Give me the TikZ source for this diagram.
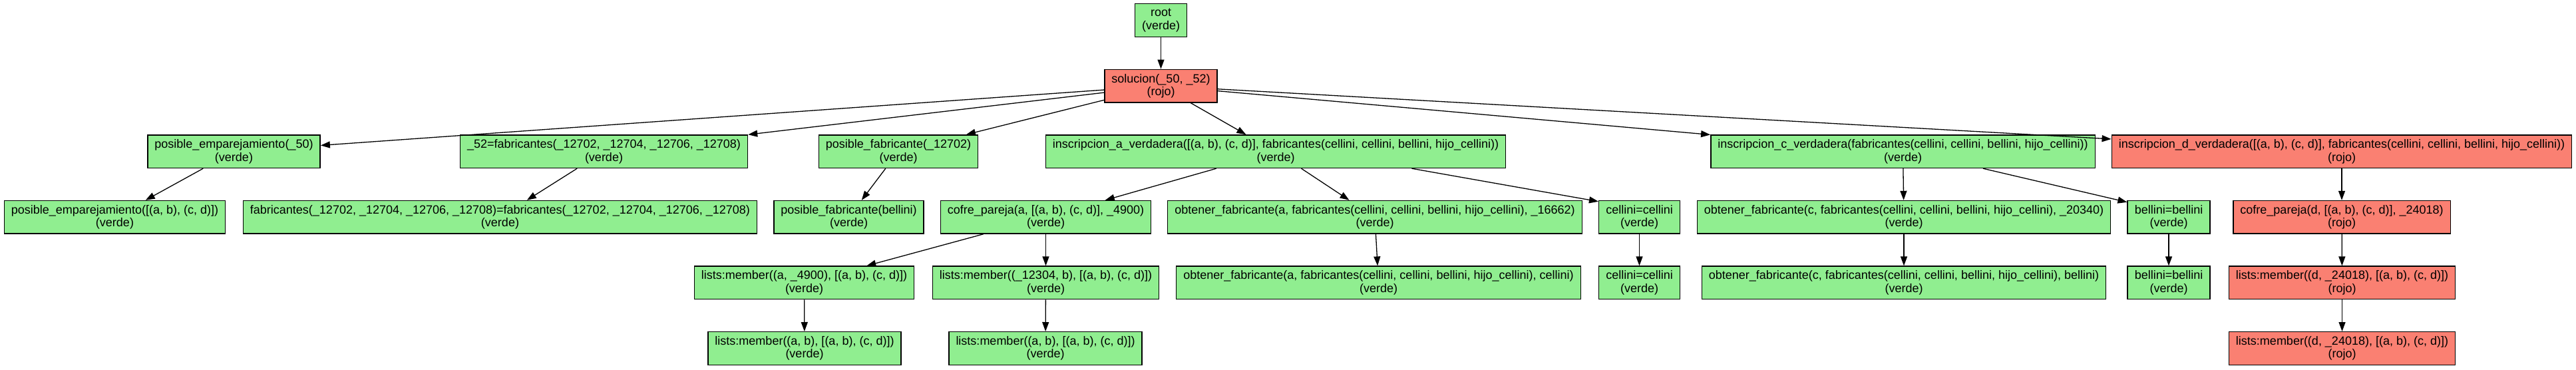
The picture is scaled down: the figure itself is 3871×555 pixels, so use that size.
\documentclass[tikz,border=0pt]{standalone}
\usepackage{fontspec}
\setmainfont{Liberation Sans}
\usepackage{xcolor}
\usepackage{tikz}
\usetikzlibrary{arrows.meta}
\definecolor{TreeGreen}{HTML}{90EE90}
\definecolor{TreeRed}{HTML}{FA8072}

\begin{document}
\begin{tikzpicture}[
  x=1pt, y=-1pt,
  box/.style={draw=black, line width=1.4pt, fill=TreeGreen, align=center, inner xsep=10.6pt, inner ysep=0pt, minimum height=49.6pt, font=\fontsize{18}{19.5}\selectfont},
  failbox/.style={box, fill=TreeRed},
  arrow/.style={-{Triangle[length=14pt, width=10pt]}, line width=1.3pt, draw=black}
]
\useasboundingbox (0,0) rectangle (3871,555);
\node[box] (root) at (1744.5,30.5) {root\\(verde)};
\node[failbox] (sol) at (1744.5,129.1) {solucion(\_50, \_52)\\(rojo)};
\node[box] (pe50) at (351.5,227.7) {posible\_emparejamiento(\_50)\\(verde)};
\node[box] (f52) at (907.5,227.7) {\_52=fabricantes(\_12702, \_12704, \_12706, \_12708)\\(verde)};
\node[box] (pf12702) at (1350,227.7) {posible\_fabricante(\_12702)\\(verde)};
\node[box] (insa) at (1917,227.7) {inscripcion\_a\_verdadera([(a, b), (c, d)], fabricantes(cellini, cellini, bellini, hijo\_cellini))\\(verde)};
\node[box] (insc) at (2859.5,227.7) {inscripcion\_c\_verdadera(fabricantes(cellini, cellini, bellini, hijo\_cellini))\\(verde)};
\node[failbox] (insd) at (3519,227.7) {inscripcion\_d\_verdadera([(a, b), (c, d)], fabricantes(cellini, cellini, bellini, hijo\_cellini))\\(rojo)};
\node[box] (pe) at (172.5,326.3) {posible\_emparejamiento([(a, b), (c, d)])\\(verde)};
\node[box] (ff) at (751.5,326.3) {fabricantes(\_12702, \_12704, \_12706, \_12708)=fabricantes(\_12702, \_12704, \_12706, \_12708)\\(verde)};
\node[box] (pfb) at (1275.5,326.3) {posible\_fabricante(bellini)\\(verde)};
\node[box] (cofa) at (1571.5,326.3) {cofre\_pareja(a, [(a, b), (c, d)], \_4900)\\(verde)};
\node[box] (obta) at (2066,326.3) {obtener\_fabricante(a, fabricantes(cellini, cellini, bellini, hijo\_cellini), \_16662)\\(verde)};
\node[box] (cel1) at (2463.5,326.3) {cellini=cellini\\(verde)};
\node[box] (obtc) at (2861,326.3) {obtener\_fabricante(c, fabricantes(cellini, cellini, bellini, hijo\_cellini), \_20340)\\(verde)};
\node[box] (bel1) at (3259,326.3) {bellini=bellini\\(verde)};
\node[failbox] (cofd) at (3519,326.3) {cofre\_pareja(d, [(a, b), (c, d)], \_24018)\\(rojo)};
\node[box] (lma) at (1208.5,424.9) {lists:member((a, \_4900), [(a, b), (c, d)])\\(verde)};
\node[box] (lm12304) at (1571.5,424.9) {lists:member((\_12304, b), [(a, b), (c, d)])\\(verde)};
\node[box] (obta2) at (2071.5,424.9) {obtener\_fabricante(a, fabricantes(cellini, cellini, bellini, hijo\_cellini), cellini)\\(verde)};
\node[box] (cel2) at (2463.5,424.9) {cellini=cellini\\(verde)};
\node[box] (obtc2) at (2861,424.9) {obtener\_fabricante(c, fabricantes(cellini, cellini, bellini, hijo\_cellini), bellini)\\(verde)};
\node[box] (bel2) at (3259,424.9) {bellini=bellini\\(verde)};
\node[failbox] (lmd1) at (3519.5,424.9) {lists:member((d, \_24018), [(a, b), (c, d)])\\(rojo)};
\node[box] (lmab1) at (1209,523.5) {lists:member((a, b), [(a, b), (c, d)])\\(verde)};
\node[box] (lmab2) at (1571,523.5) {lists:member((a, b), [(a, b), (c, d)])\\(verde)};
\node[failbox] (lmd2) at (3519.5,523.5) {lists:member((d, \_24018), [(a, b), (c, d)])\\(rojo)};
\draw[arrow] (root) -- (sol);
\draw[arrow] (sol) -- (pe50);
\draw[arrow] (sol) -- (f52);
\draw[arrow] (sol) -- (pf12702);
\draw[arrow] (sol) -- (insa);
\draw[arrow] (sol) -- (insc);
\draw[arrow] (sol) -- (insd);
\draw[arrow] (pe50) -- (pe);
\draw[arrow] (f52) -- (ff);
\draw[arrow] (pf12702) -- (pfb);
\draw[arrow] (insa) -- (cofa);
\draw[arrow] (insa) -- (obta);
\draw[arrow] ([xshift=-142pt]insa.south east) -- ([yshift=-2pt]cel1.north west);
\draw[arrow] (insc) -- (obtc);
\draw[arrow] ([xshift=-169pt]insc.south east) -- ([yshift=-3pt]bel1.north west);
\draw[arrow] (insd) -- (cofd);
\draw[arrow] (cofa) -- (lma);
\draw[arrow] (cofa) -- (lm12304);
\draw[arrow] (obta) -- (obta2);
\draw[arrow] (cel1) -- (cel2);
\draw[arrow] (obtc) -- (obtc2);
\draw[arrow] (bel1) -- (bel2);
\draw[arrow] (cofd) -- (lmd1);
\draw[arrow] (lma) -- (lmab1);
\draw[arrow] (lm12304) -- (lmab2);
\draw[arrow] (lmd1) -- (lmd2);
\end{tikzpicture}
\end{document}
